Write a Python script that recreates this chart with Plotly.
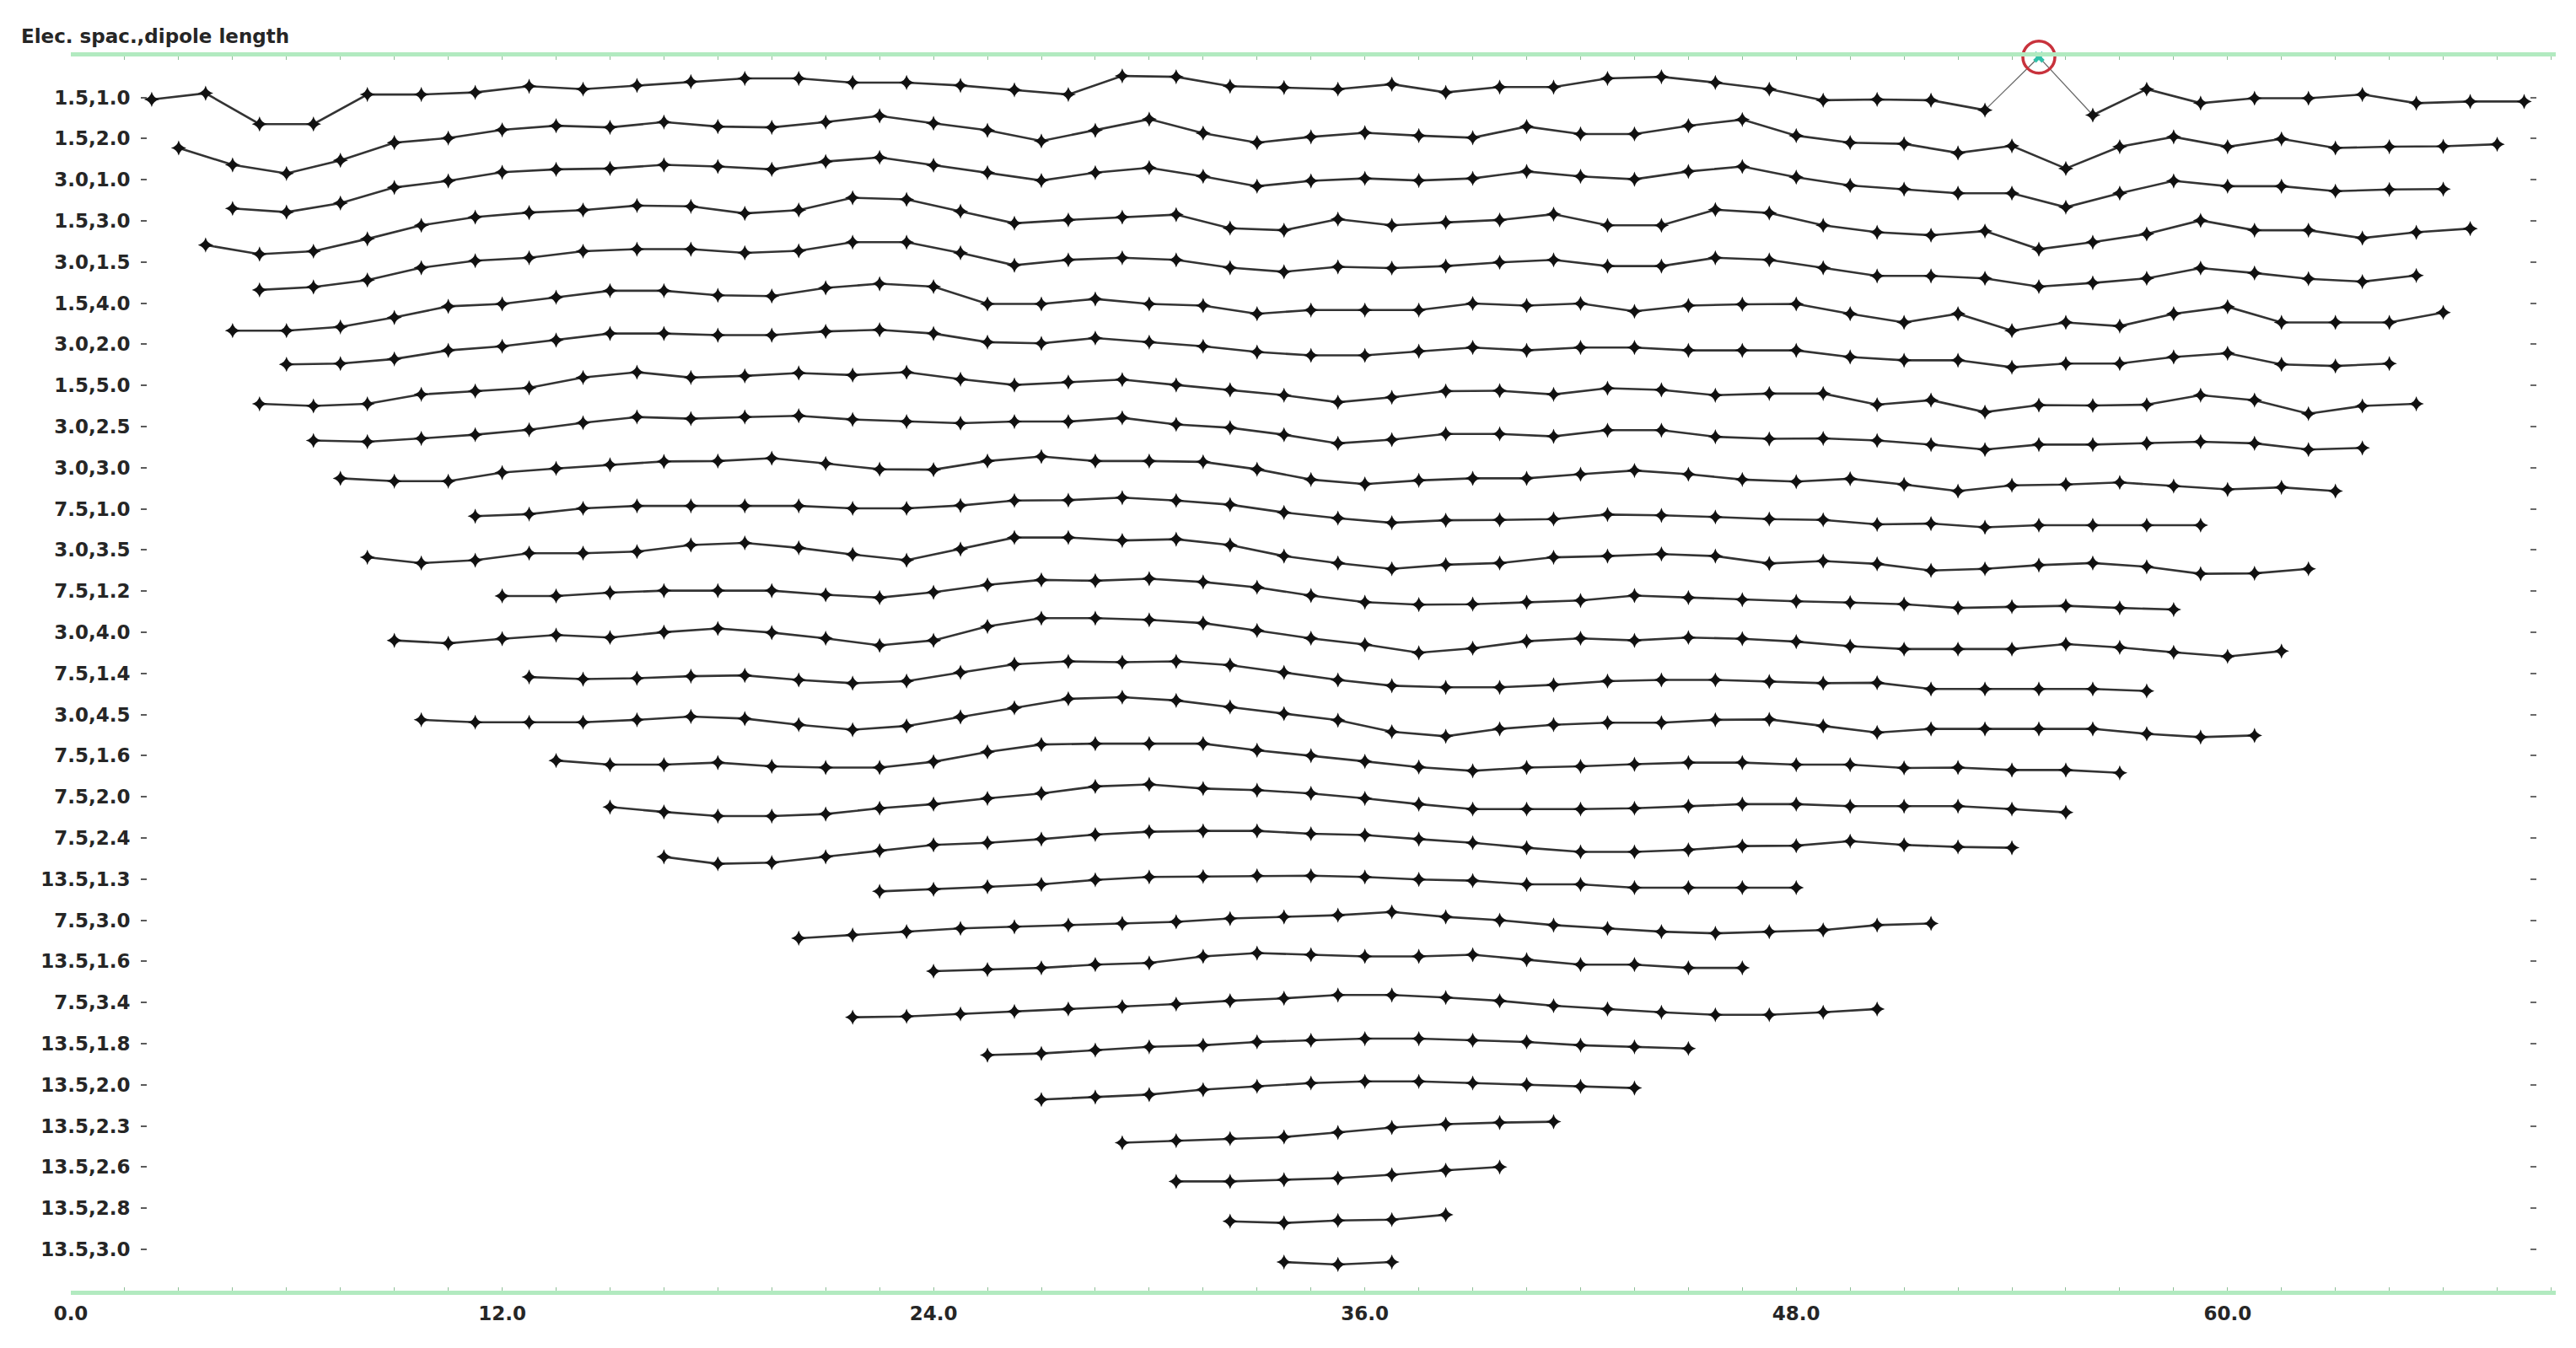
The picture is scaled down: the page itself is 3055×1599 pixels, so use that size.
import plotly.graph_objects as go

# data levels (electrode spacing, dipole length) from top to bottom
labels = ["1.5,1.0", "1.5,2.0", "3.0,1.0", "1.5,3.0", "3.0,1.5", "1.5,4.0", "3.0,2.0",
          "1.5,5.0", "3.0,2.5", "3.0,3.0", "7.5,1.0", "3.0,3.5", "7.5,1.2", "3.0,4.0",
          "7.5,1.4", "3.0,4.5", "7.5,1.6", "7.5,2.0", "7.5,2.4", "13.5,1.3", "7.5,3.0",
          "13.5,1.6", "7.5,3.4", "13.5,1.8", "13.5,2.0", "13.5,2.3", "13.5,2.6", "13.5,2.8",
          "13.5,3.0"]
first_x = [2.25, 3.0, 4.5, 3.75, 5.25, 4.5, 6.0, 5.25, 6.75, 7.5, 11.25, 8.25, 12.0, 9.0,
           12.75, 9.75, 13.5, 15.0, 16.5, 22.5, 20.25, 24.0, 21.75, 25.5, 27.0, 29.25, 30.75,
           32.25, 33.75]
step = 1.5  # electrode step between datum points

# relative apparent resistivity of each datum (row-spacing units, + is up)
row01 = [-0.05, 0.10, -0.65, -0.65, 0.07, 0.07, 0.12, 0.27, 0.20, 0.29, 0.38, 0.46, 0.46, 0.36, 0.36, 0.29,
         0.18, 0.07, 0.52, 0.50, 0.27, 0.24, 0.20, 0.32, 0.12, 0.25, 0.25, 0.46, 0.50, 0.36, 0.20,
         -0.07, -0.05, -0.07, -0.31, 0.98, -0.43, 0.20, -0.14, -0.02, -0.02, 0.07, -0.14, -0.10, -0.10]
row02 = [-0.23, -0.64, -0.85, -0.53, -0.10, 0.01, 0.21, 0.31, 0.27, 0.40, 0.29, 0.27, 0.40, 0.55, 0.37,
         0.20, -0.06, 0.20, 0.47, 0.13, -0.10, 0.04, 0.14, 0.07, 0.02, 0.29, 0.11, 0.11, 0.31, 0.46,
         0.07, -0.10, -0.13, -0.35, -0.18, -0.73, -0.20, 0.04, -0.20, -0.01, -0.23, -0.20, -0.19, -0.14]
row03 = [-0.70, -0.79, -0.57, -0.19, -0.03, 0.18, 0.25, 0.27, 0.36, 0.32, 0.25, 0.44, 0.54, 0.35,
         0.17, -0.02, 0.17, 0.29, 0.08, -0.16, -0.03, 0.03, -0.02, 0.03, 0.20, 0.08, 0.01, 0.20, 0.32,
         0.06, -0.14, -0.23, -0.33, -0.33, -0.67, -0.33, -0.03, -0.16, -0.16, -0.28, -0.24, -0.23]
row04 = [-0.59, -0.81, -0.74, -0.44, -0.11, 0.09, 0.20, 0.26, 0.37, 0.35, 0.18, 0.26, 0.56, 0.52, 0.23,
         -0.06, 0.02, 0.09, 0.15, -0.18, -0.23, 0.04, -0.11, -0.04, 0.02, 0.16, -0.11, -0.11, 0.27, 0.19,
         -0.11, -0.28, -0.35, -0.25, -0.69, -0.52, -0.32, 0.01, -0.23, -0.23, -0.42, -0.28, -0.19]
row05 = [-0.68, -0.61, -0.44, -0.14, 0.03, 0.10, 0.26, 0.31, 0.31, 0.22, 0.27, 0.48, 0.48, 0.22,
         -0.08, 0.05, 0.10, 0.05, -0.14, -0.24, -0.12, -0.15, -0.10, -0.01, 0.05, -0.10, -0.10, 0.10, 0.05,
         -0.14, -0.34, -0.34, -0.40, -0.60, -0.51, -0.40, -0.15, -0.27, -0.41, -0.48, -0.33]
row06 = [-0.67, -0.67, -0.58, -0.35, -0.08, -0.02, 0.14, 0.30, 0.30, 0.19, 0.17, 0.37, 0.47, 0.40,
         -0.02, -0.02, 0.10, -0.02, -0.06, -0.26, -0.17, -0.17, -0.17, -0.01, -0.06, -0.01, -0.20, -0.06, -0.03,
         -0.02, -0.26, -0.47, -0.26, -0.67, -0.47, -0.56, -0.26, -0.09, -0.47, -0.47, -0.47, -0.23]
row07 = [-0.49, -0.47, -0.36, -0.15, -0.05, 0.10, 0.26, 0.26, 0.22, 0.22, 0.31, 0.35, 0.26,
         0.05, 0.02, 0.15, 0.05, -0.05, -0.19, -0.27, -0.27, -0.17, -0.08, -0.15, -0.08, -0.08, -0.15, -0.15,
         -0.15, -0.31, -0.39, -0.39, -0.56, -0.47, -0.47, -0.31, -0.22, -0.49, -0.53, -0.47]
row08 = [-0.45, -0.50, -0.45, -0.22, -0.14, -0.06, 0.19, 0.32, 0.19, 0.23, 0.30, 0.25, 0.32, 0.15,
         0.01, 0.08, 0.14, 0.01, -0.11, -0.24, -0.41, -0.29, -0.14, -0.13, -0.22, -0.07, -0.11, -0.24, -0.20,
         -0.20, -0.47, -0.36, -0.65, -0.48, -0.49, -0.47, -0.24, -0.36, -0.69, -0.50, -0.45]
row09 = [-0.34, -0.37, -0.29, -0.20, -0.08, 0.09, 0.23, 0.19, 0.23, 0.26, 0.17, 0.12, 0.08,
         0.12, 0.12, 0.21, 0.05, -0.03, -0.20, -0.41, -0.32, -0.18, -0.18, -0.24, -0.09, -0.09, -0.25, -0.30,
         -0.29, -0.34, -0.44, -0.56, -0.44, -0.44, -0.41, -0.37, -0.41, -0.56, -0.52]
row10 = [-0.26, -0.33, -0.33, -0.12, -0.02, 0.07, 0.15, 0.16, 0.23, 0.10, -0.04, -0.05,
         0.16, 0.27, 0.16, 0.16, 0.14, -0.04, -0.29, -0.40, -0.31, -0.26, -0.26, -0.16, -0.07, -0.16, -0.29,
         -0.34, -0.27, -0.41, -0.57, -0.43, -0.41, -0.36, -0.45, -0.53, -0.48, -0.57]
row11 = [-0.18, -0.13, 0.01, 0.07, 0.07, 0.07, 0.07, 0.01, 0.01,
         0.08, 0.20, 0.21, 0.27, 0.20, 0.10, -0.09, -0.23, -0.34, -0.28, -0.27, -0.25, -0.14, -0.16, -0.20, -0.25,
         -0.27, -0.38, -0.36, -0.45, -0.40, -0.40, -0.40, -0.40]
row12 = [-0.18, -0.32, -0.25, -0.08, -0.08, -0.04, 0.12, 0.17, 0.05, -0.11, -0.25,
         0.02, 0.30, 0.30, 0.23, 0.26, 0.12, -0.15, -0.32, -0.46, -0.36, -0.32, -0.18, -0.15, -0.10, -0.15,
         -0.33, -0.27, -0.34, -0.50, -0.46, -0.37, -0.32, -0.41, -0.58, -0.57, -0.46]
row13 = [-0.12, -0.12, -0.04, 0.01, 0.01, 0.01, -0.09, -0.16,
         -0.03, 0.15, 0.27, 0.25, 0.30, 0.22, 0.09, -0.11, -0.27, -0.33, -0.32, -0.27, -0.23, -0.11, -0.16,
         -0.21, -0.25, -0.28, -0.32, -0.41, -0.38, -0.36, -0.41, -0.45]
row14 = [-0.20, -0.27, -0.16, -0.07, -0.13, 0.00, 0.09, -0.01, -0.15, -0.32,
         -0.20, 0.14, 0.34, 0.34, 0.30, 0.22, 0.04, -0.15, -0.30, -0.50, -0.39, -0.22, -0.15, -0.20, -0.13,
         -0.16, -0.23, -0.34, -0.41, -0.41, -0.41, -0.29, -0.37, -0.49, -0.59, -0.46]
row15 = [-0.09, -0.14, -0.12, -0.07, -0.05, -0.16, -0.24, -0.19,
         0.02, 0.22, 0.29, 0.27, 0.29, 0.20, 0.02, -0.16, -0.30, -0.34, -0.34, -0.28, -0.19, -0.16, -0.16,
         -0.20, -0.24, -0.23, -0.38, -0.38, -0.38, -0.38, -0.43]
row16 = [-0.13, -0.19, -0.19, -0.19, -0.13, -0.05, -0.10, -0.25, -0.37, -0.28,
         -0.06, 0.16, 0.38, 0.42, 0.34, 0.18, 0.02, -0.14, -0.42, -0.53, -0.35, -0.25, -0.20, -0.20, -0.13,
         -0.12, -0.28, -0.44, -0.35, -0.35, -0.35, -0.35, -0.47, -0.55, -0.51]
row17 = [-0.12, -0.22, -0.22, -0.17, -0.26, -0.29, -0.29,
         -0.15, 0.09, 0.27, 0.29, 0.29, 0.29, 0.13, 0.00, -0.14, -0.28, -0.37, -0.29, -0.26, -0.21, -0.17,
         -0.17, -0.22, -0.22, -0.30, -0.29, -0.35, -0.35, -0.42]
row18 = [-0.25, -0.37, -0.47, -0.47, -0.42, -0.28,
         -0.18, -0.04, 0.08, 0.25, 0.30, 0.20, 0.16, 0.08, -0.04, -0.18, -0.30, -0.30, -0.30, -0.28, -0.23,
         -0.18, -0.18, -0.23, -0.23, -0.23, -0.30, -0.38]
row19 = [-0.46, -0.63, -0.60, -0.46, -0.31,
         -0.17, -0.12, -0.03, 0.08, 0.15, 0.17, 0.17, 0.10, 0.07, -0.03, -0.12, -0.24, -0.34, -0.34, -0.29,
         -0.20, -0.19, -0.08, -0.17, -0.22, -0.24]
row20 = [-0.30, -0.25, -0.19, -0.13, -0.02, 0.05, 0.06, 0.08, 0.08, 0.05, -0.01, -0.04, -0.13, -0.13,
         -0.21, -0.21, -0.21, -0.21]
row21 = [-0.44, -0.36, -0.28, -0.20, -0.16, -0.12, -0.08, -0.04, 0.04, 0.08, 0.12, 0.20, 0.08, 0.00,
         -0.12, -0.20, -0.28, -0.32, -0.28, -0.24, -0.12, -0.08]
row22 = [-0.24, -0.20, -0.16, -0.08, -0.04, 0.12, 0.20, 0.16, 0.12, 0.12, 0.16, 0.04, -0.08, -0.08,
         -0.16, -0.16]
row23 = [-0.36, -0.34, -0.28, -0.22, -0.16, -0.10, -0.04, 0.04, 0.10, 0.18, 0.18, 0.12, 0.04, -0.08,
         -0.16, -0.24, -0.30, -0.30, -0.24, -0.16]
row24 = [-0.28, -0.24, -0.16, -0.08, -0.04, 0.04, 0.08, 0.12, 0.12, 0.08, 0.04, -0.04, -0.08, -0.12]
row25 = [-0.36, -0.30, -0.24, -0.12, -0.04, 0.04, 0.08, 0.08, 0.04, 0.00, -0.04, -0.08]
row26 = [-0.41, -0.36, -0.31, -0.27, -0.16, -0.04, 0.04, 0.08, 0.10]
row27 = [-0.35, -0.35, -0.31, -0.27, -0.19, -0.08, 0.00]
row28 = [-0.32, -0.36, -0.30, -0.28, -0.16]
row29 = [-0.31, -0.37, -0.31]

rows = [row01, row02, row03, row04, row05, row06, row07, row08, row09, row10,
        row11, row12, row13, row14, row15, row16, row17, row18, row19, row20,
        row21, row22, row23, row24, row25, row26, row27, row28, row29]

bad_row, bad_index = 0, 35  # datum picked as bad (circled)

xtick_vals = [0, 12, 24, 36, 48, 60]
xtick_text = ["0.0", "12.0", "24.0", "36.0", "48.0", "60.0"]

W, H = 3055, 1599
font = dict(family="DejaVu Sans", size=23, color="#262626", weight="bold")
green = "#b2eac0"

fig = go.Figure()

for i, vals in enumerate(rows):
    xs = [first_x[i] + step * k for k in range(len(vals))]
    ys = [-i + v for v in vals]
    if i == bad_row:
        ys_main = list(ys)
        ys_main[bad_index] = None
        # thin segments to the rejected point
        fig.add_trace(go.Scatter(x=xs[bad_index - 1:bad_index + 2], y=ys[bad_index - 1:bad_index + 2],
                                 mode="lines", line=dict(color="#6a6a6a", width=1.3), hoverinfo="skip"))
        ys = ys_main
    fig.add_trace(go.Scatter(x=xs, y=ys, mode="lines+markers", connectgaps=False,
                             line=dict(color="#333333", width=2.6),
                             marker=dict(symbol="star-diamond", size=13, color="#111111"),
                             name=labels[i]))

# the rejected datum, drawn on the overlay axes so they get rendered
bx = first_x[bad_row] + step * bad_index
by = -bad_row + rows[bad_row][bad_index]
fig.add_trace(go.Scatter(x=[bx], y=[by], xaxis="x2", yaxis="y2", mode="markers",
                         marker=dict(symbol="circle-open", size=38, color="#c8323c", line=dict(width=3.5))))
fig.add_trace(go.Scatter(x=[bx], y=[by], xaxis="x2", yaxis="y2", mode="markers",
                         marker=dict(symbol="x", size=12, color="#30c0a8", line=dict(width=0))))

x0_px, x1_px = 84, 3031
px_per_unit = 42.63
row_px, row0_px = 48.8, 115.5
y_top = row0_px / row_px
y_bot = y_top - H / row_px

tickvals_y = [-i for i in range(len(labels))]

xaxis_common = dict(domain=[x0_px / W, x1_px / W], range=[0, (x1_px - x0_px) / px_per_unit],
                    showgrid=False, zeroline=False, showline=True, linecolor=green, linewidth=5,
                    ticks="inside", ticklen=4, tickwidth=1, tickcolor="#8fbf98",
                    minor=dict(dtick=1.5, tick0=0, ticks="inside", ticklen=4, tickwidth=1,
                               tickcolor="#8fbf98", showgrid=False),
                    anchor="free", automargin=False)

yaxis_common = dict(domain=[0, 1], range=[y_bot, y_top], anchor="free", tickvals=tickvals_y,
                    ticks="outside", ticklen=7, tickwidth=2, showgrid=False, zeroline=False,
                    showline=False, automargin=False)

fig.update_layout(
    width=W, height=H,
    margin=dict(l=0, r=0, t=0, b=0, pad=0),
    paper_bgcolor="white", plot_bgcolor="white",
    showlegend=False,
    xaxis=dict(**xaxis_common, position=1 - 1533 / H, tickvals=xtick_vals, ticktext=xtick_text,
               tickfont=font, ticklabelstandoff=2),
    xaxis2=dict(**xaxis_common, position=1 - 64 / H, side="top", overlaying="x", matches="x",
                showticklabels=False, tickvals=xtick_vals),
    yaxis=dict(**yaxis_common, position=174 / W, ticktext=labels, tickfont=font,
               tickcolor="#5a5a5a", ticklabelstandoff=8),
    yaxis2=dict(**yaxis_common, position=3000 / W, overlaying="y", matches="y", side="right",
                tickcolor="#6a6a6a", showticklabels=False),
)

fig.add_annotation(text="Elec. spac.,dipole length", xref="paper", yref="paper",
                   x=23 / W, y=1 - 43 / H, xanchor="left", yanchor="middle",
                   showarrow=False, font=font)

# drop the default page margin so the figure sits at the window corner
fig.write_html("out.html", config={"displayModeBar": False},
               post_script="document.body.style.margin='0px';")
